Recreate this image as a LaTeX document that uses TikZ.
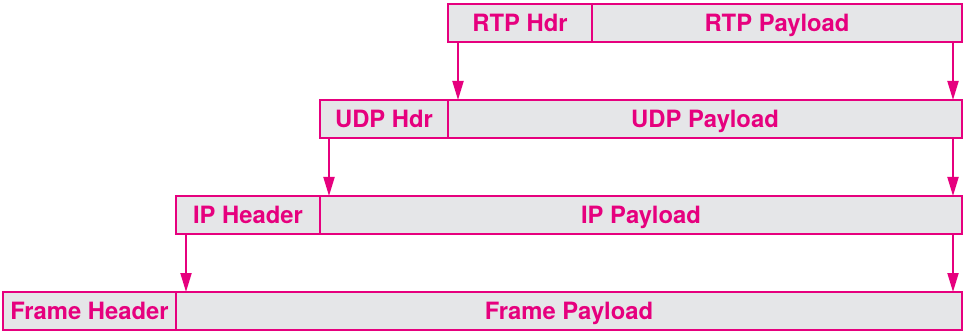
\documentclass[tikz,border=0pt]{standalone}
\usepackage{fontspec}
\setmainfont{TeX Gyre Heros}
\usetikzlibrary{positioning,arrows.meta}
\definecolor{pktpink}{RGB}{230,0,126}
\definecolor{pktgray}{RGB}{229,230,232}
\begin{document}
\begin{tikzpicture}[x=0.5pt,y=0.5pt,
  every node/.style={draw=pktpink,fill=pktgray,line width=1pt,text=pktpink,
    font=\fontsize{11.9}{14}\selectfont\bfseries,minimum height=19pt,
    text height=8.6pt,text depth=0pt,
    inner sep=0pt,outer sep=0pt,anchor=west},
  hop/.style={draw=pktpink,line width=1pt,-{Triangle[length=9.5pt,width=5.5pt]}}]
\useasboundingbox (0,0) rectangle (963,332);
% one row per layer
\node[minimum width=72pt] (rtphdr) at (448,309) {RTP Hdr};
\node[minimum width=185pt,right=0pt of rtphdr] (rtppay) {RTP Payload};
\node[minimum width=64pt] (udphdr) at (320,213) {UDP Hdr};
\node[minimum width=257pt,right=0pt of udphdr] (udppay) {UDP Payload};
\node[minimum width=72pt] (iphdr) at (176,117) {IP Header};
\node[minimum width=321pt,right=0pt of iphdr] (ippay) {IP Payload};
\node[minimum width=86.5pt] (framehdr) at (3,21) {Frame Header};
\node[minimum width=393pt,right=0pt of framehdr] (framepay) {Frame Payload};
% encapsulation arrows
\draw[hop] ([xshift=5pt]rtphdr.south west) -- ([xshift=5pt]rtphdr.south west |- udppay.north);
\draw[hop] ([xshift=-4.5pt]rtppay.south east) -- ([xshift=-4.5pt]udppay.north east);
\draw[hop] ([xshift=4.5pt]udphdr.south west) -- ([xshift=4.5pt]udphdr.south west |- ippay.north);
\draw[hop] ([xshift=-4.5pt]udppay.south east) -- ([xshift=-4.5pt]ippay.north east);
\draw[hop] ([xshift=5pt]iphdr.south west) -- ([xshift=5pt]iphdr.south west |- framepay.north);
\draw[hop] ([xshift=-4.5pt]ippay.south east) -- ([xshift=-4.5pt]framepay.north east);
\end{tikzpicture}
\end{document}
